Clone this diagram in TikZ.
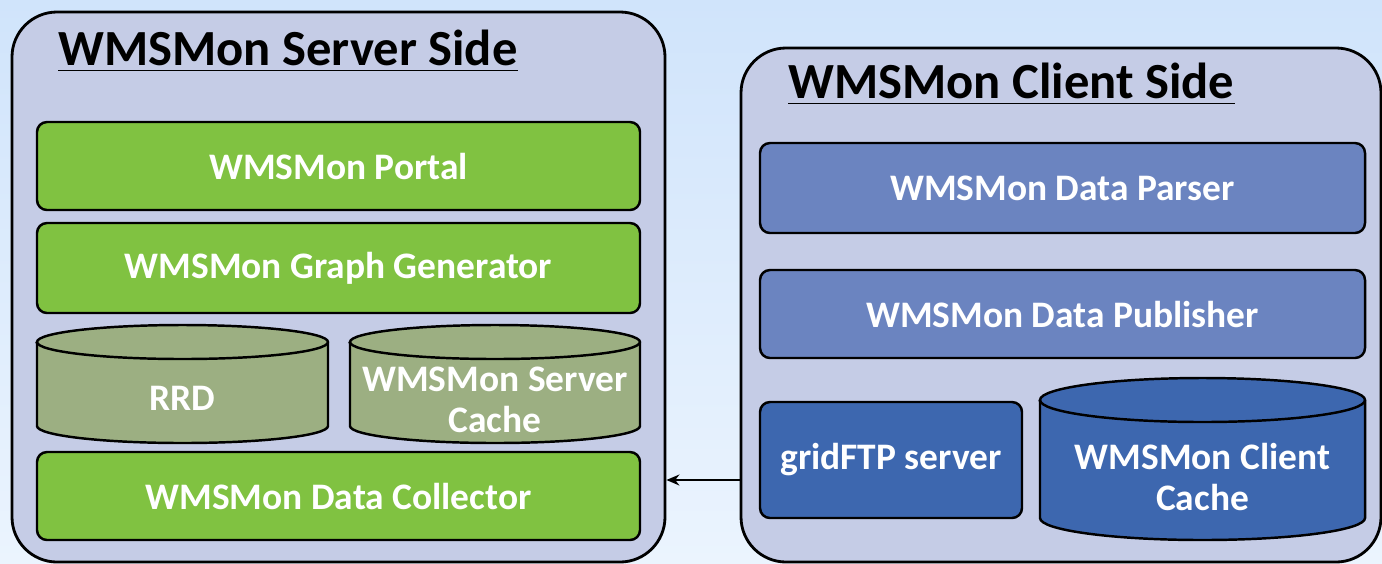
\documentclass[tikz,border=0pt]{standalone}
\usepackage{fontspec}
\setmainfont{Carlito}
\usetikzlibrary{arrows.meta}
\definecolor{bgtop}{HTML}{D0E4FB}
\definecolor{bgbottom}{HTML}{EBF4FE}
\definecolor{panelfill}{HTML}{C5CCE6}
\definecolor{srvgreen}{HTML}{80C241}
\definecolor{srvolive}{HTML}{9CAF82}
\definecolor{clilight}{HTML}{6B84C0}
\definecolor{clidark}{HTML}{3D67AF}
\begin{document}
\begin{tikzpicture}[x=0.2mm, y=-0.2mm,
    panel/.style ={draw, line width=1.6pt, rounded corners=9mm, fill=panelfill},
    heading/.style ={anchor=base west, inner sep=0pt, font=\bfseries\fontsize{28.8}{32}\selectfont},
    module/.style ={draw, line width=1.4pt, rounded corners=2mm, text=white, align=center,
                    inner sep=0pt, font=\bfseries\fontsize{21.3}{23}\selectfont},
    storetext/.style ={module, draw=none}]
   \shade[top color=bgtop, bottom color=bgbottom] (0,0) rectangle (1382,563);
   \useasboundingbox (0,0) rectangle (1382,563);
   % server side
   \node[panel, minimum width=130.6mm, minimum height=110mm] (server) at (338.5,287) {};
   \node[heading] (servertitle) at (58,65) {WMSMon Server Side};
   \node[module, fill=srvgreen, minimum width=120.6mm, minimum height=17.6mm] (portal) at (338.5,166) {WMSMon Portal};
   \node[module, fill=srvgreen, minimum width=120.6mm, minimum height=18mm] (graph) at (338.5,268) {WMSMon Graph Generator};
   \node[module, fill=srvgreen, minimum width=120.6mm, minimum height=17.6mm] (collector) at (338.5,496) {WMSMon Data Collector};
   % client side
   \node[panel, minimum width=128mm, minimum height=102.8mm] (client) at (1061,305) {};
   \node[heading] (clienttitle) at (788,98) {WMSMon Client Side};
   \node[module, fill=clilight, minimum width=121mm, minimum height=18mm] (parser) at (1062.5,188) {WMSMon Data Parser};
   \node[module, fill=clilight, minimum width=121mm, minimum height=17.6mm] (publisher) at (1062.5,314) {WMSMon Data Publisher};
   \node[module, fill=clidark, minimum width=52.4mm, minimum height=23.2mm] (gridftp) at (891,460) {gridFTP server};
   % underlines
   \draw[line width=1.1pt] ([yshift=-1.1mm]servertitle.base west) -- ([yshift=-1.1mm]servertitle.base east);
   \draw[line width=1.1pt] ([yshift=-1.1mm]clienttitle.base west) -- ([yshift=-1.1mm]clienttitle.base east);
   % cylinders: left/right/top centre/bottom centre/x radius/y radius/colour
   \foreach \l/\r/\t/\b/\rx/\ry/\col in {37/328/342/426/29.1/3.4/srvolive,
                                          350/640/342/426/29/3.4/srvolive,
                                          1040/1365/400/518/32.5/4.4/clidark} {
      \draw[line width=1.4pt, fill=\col] (\l,\t) -- (\l,\b)
         arc[start angle=180, end angle=360, x radius=\rx mm, y radius=\ry mm] -- (\r,\t)
         arc[start angle=0, end angle=180, x radius=\rx mm, y radius=\ry mm] -- cycle;
      \draw[line width=1.4pt] (\l,\t) arc[start angle=180, end angle=360, x radius=\rx mm, y radius=\ry mm];
   }
   \node[storetext] (rrd) at (182.5,398) {RRD};
   \node[storetext] (srvcache) at (495,400) {WMSMon Server\\Cache};
   \node[storetext] (clicache) at (1202.5,477) {WMSMon Client\\Cache};
   \draw[line width=1.1pt, -{Stealth[length=2.6mm, width=2.2mm]}]
      ([yshift=3.2mm]client.west |- collector) -- ([yshift=3.2mm]server.east |- collector);
\end{tikzpicture}
\end{document}
